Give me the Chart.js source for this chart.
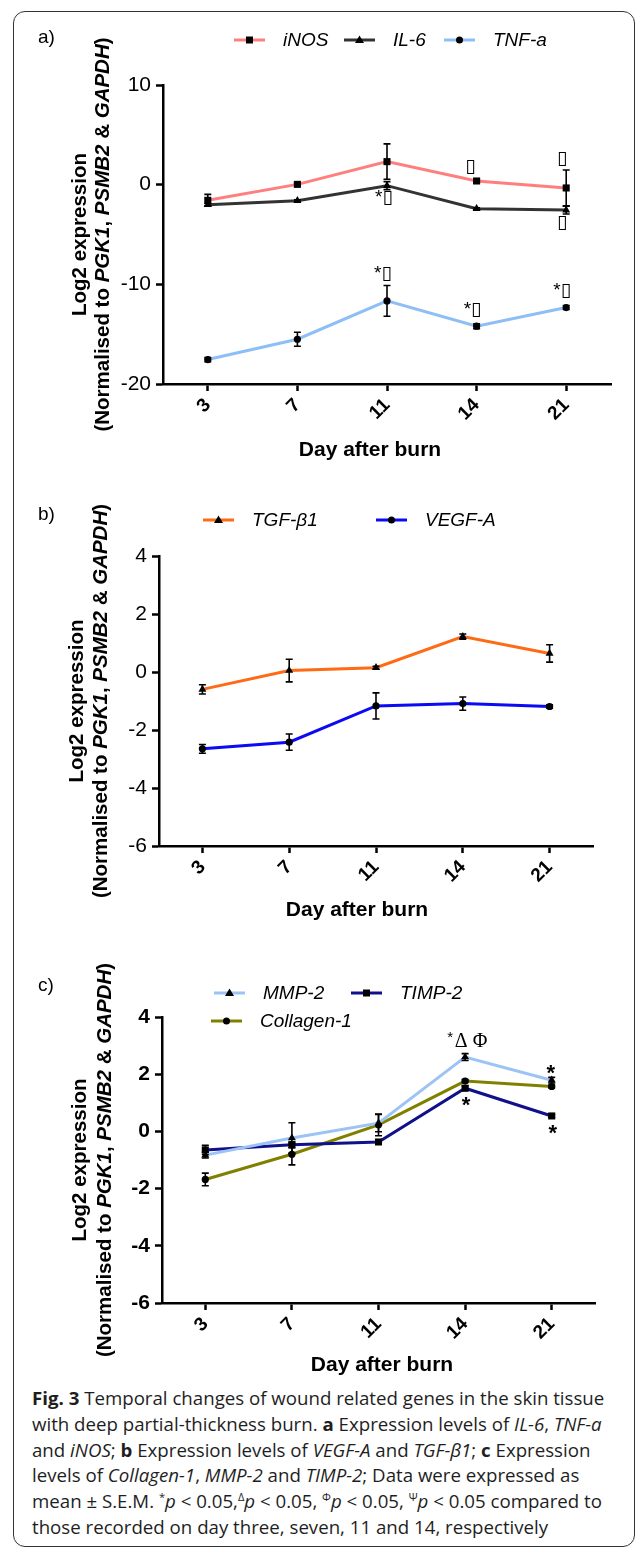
<!DOCTYPE html>
<html>
<head>
<meta charset="utf-8">
<script src="https://cdn.jsdelivr.net/npm/chart.js@4.4.0/dist/chart.umd.min.js"></script>
<style>
  body { margin: 0; background: #fff; }
  #fig { position: relative; width: 637px; height: 1550px; overflow: hidden; }
  #frame { position: absolute; left: 13px; top: 11px; width: 620px; height: 1534px;
           border: 1.5px solid #333; border-radius: 12px; }
  canvas { position: absolute; left: 0; }
  #cap { position: absolute; left: 32px; top: 1385px; font-family: 'Open Sans', sans-serif;
         font-size: 18.5px; line-height: 25.8px; color: #1e1e1e; white-space: nowrap; transform-origin: 0 0; }
  #cap div { width: max-content; }
  #cap sup { font-size: 11px; line-height: 0; }
</style>
</head>
<body>
<div id="fig">
  <div id="frame"></div>
  <canvas id="chartA" width="637" height="470" style="top:0px"></canvas>
  <canvas id="chartB" width="637" height="460" style="top:470px"></canvas>
  <canvas id="chartC" width="637" height="455" style="top:930px"></canvas>
  <div id="cap">
    <div id="capFirst"><b>Fig. 3</b> Temporal changes of wound related genes in the skin tissue</div>
    <div>with deep partial-thickness burn. <b>a</b> Expression levels of <i>IL-6</i>, <i>TNF-a</i></div>
    <div>and <i>iNOS</i>; <b>b</b> Expression levels of <i>VEGF-A</i> and <i>TGF-β1</i>; <b>c</b> Expression</div>
    <div>levels of <i>Collagen-1</i>, <i>MMP-2</i> and <i>TIMP-2</i>; Data were expressed as</div>
    <div>mean ± S.E.M. <sup>*</sup><i>p</i> &lt; 0.05,<sup>Δ</sup><i>p</i> &lt; 0.05, <sup>Φ</sup><i>p</i> &lt; 0.05, <sup>Ψ</sup><i>p</i> &lt; 0.05 compared to</div>
    <div>those recorded on day three, seven, 11 and 14, respectively</div>
  </div>
</div>
<script>
// x categories
const days = ['3', '7', '11', '14', '21'];

// panel a
const iNOS = [-1.57, 0.03, 2.31, 0.37, -0.33];
const iNOSErr = [0.6, 0.15, 1.78, 0.15, 1.8];
const IL6 = [-2.01, -1.61, -0.10, -2.41, -2.55];
const IL6Err = [0.12, 0.1, 0.4, 0.1, 0.4];
const TNFa = [-17.55, -15.51, -11.66, -14.20, -12.33];
const TNFaErr = [0.2, 0.7, 1.54, 0.25, 0.2];
const ticksA = [-20, -10, 0, 10];

// panel b
const TGFb1 = [-0.60, 0.05, 0.15, 1.22, 0.64];
const TGFb1Err = [0.16, 0.39, 0.05, 0.09, 0.30];
const VEGFA = [-2.65, -2.42, -1.17, -1.09, -1.19];
const VEGFAErr = [0.15, 0.28, 0.45, 0.23, 0.06];
const ticksB = [-6, -4, -2, 0, 2, 4];

// panel c
const MMP2 = [-0.83, -0.23, 0.29, 2.60, 1.79];
const MMP2Err = [0.1, 0.53, 0.3, 0.12, 0.1];
const TIMP2 = [-0.65, -0.47, -0.37, 1.51, 0.54];
const TIMP2Err = [0.16, 0.1, 0.08, 0.08, 0.05];
const Col1 = [-1.68, -0.80, 0.23, 1.76, 1.57];
const Col1Err = [0.22, 0.37, 0.38, 0.05, 0.05];
const ticksC = [-6, -4, -2, 0, 2, 4];

// significance marks: series index, day index, text
const notesA = [
  {s: 0, i: 3, t: '▯', dx: -6, dy: -14},
  {s: 0, i: 4, t: '▯', dx: -4, dy: -29},
  {s: 1, i: 2, t: '*▯', dx: -3, dy: 12},
  {s: 1, i: 4, t: '▯', dx: -4, dy: 13},
  {s: 2, i: 2, t: '*▯', dx: -4, dy: -27},
  {s: 2, i: 3, t: '*▯', dx: -4, dy: -16},
  {s: 2, i: 4, t: '*▯', dx: -4, dy: -17}
];
const notesC = [
  {s: 0, i: 3, t: '*', dx: -15, dy: -19, font: '15px "Liberation Sans"'},
  {s: 0, i: 3, t: 'Δ Φ', dx: 6, dy: -15, font: '20px "Liberation Serif"'},
  {s: 0, i: 4, t: '*', dx: -1, dy: -6, font: 'bold 22px "Liberation Sans"'},
  {s: 1, i: 3, t: '*', dx: 1, dy: 18, font: 'bold 22px "Liberation Sans"'},
  {s: 1, i: 4, t: '*', dx: 1, dy: 18, font: 'bold 22px "Liberation Sans"'}
];

const SANS = '"Liberation Sans", Arial, sans-serif';
const radius = {rect: 5, triangle: 4.6, circle: 3.6};

function marker(c, style, x, y) {
  c.fillStyle = '#000';
  c.beginPath();
  if (style === 'rect') c.rect(x - 3.5, y - 3.5, 7, 7);
  else if (style === 'triangle') { c.moveTo(x, y - 4.5); c.lineTo(x + 4.5, y + 3); c.lineTo(x - 4.5, y + 3); c.closePath(); }
  else c.arc(x, y, 3.5, 0, Math.PI * 2);
  c.fill();
}

const errorBars = {
  id: 'errorBars',
  afterDatasetsDraw(chart) {
    const c = chart.ctx, xs = chart.scales.x, ys = chart.scales.y;
    c.save();
    c.strokeStyle = '#000';
    c.lineWidth = 1.6;
    chart.data.datasets.forEach(ds => {
      ds.data.forEach((v, i) => {
        const e = ds.errors[i];
        if (!e) return;
        const x = xs.getPixelForValue(i);
        const y1 = ys.getPixelForValue(v + e), y2 = ys.getPixelForValue(v - e);
        c.beginPath();
        c.moveTo(x, y1); c.lineTo(x, y2);
        c.moveTo(x - 3.5, y1); c.lineTo(x + 3.5, y1);
        c.moveTo(x - 3.5, y2); c.lineTo(x + 3.5, y2);
        c.stroke();
      });
    });
    c.restore();
  }
};

function deco(cfg) {
  return {
    id: 'deco',
    afterDraw(chart) {
      const c = chart.ctx, xs = chart.scales.x, ys = chart.scales.y, area = chart.chartArea;
      c.save();
      c.textBaseline = 'middle';
      // panel tag
      c.fillStyle = '#000';
      c.font = '19px ' + SANS;
      c.textAlign = 'left';
      c.fillText(cfg.tag, 38, cfg.tagY);
      // legend
      cfg.legend.forEach(it => {
        const ds = chart.data.datasets[it.s];
        c.strokeStyle = ds.borderColor;
        c.lineWidth = 3;
        c.beginPath(); c.moveTo(it.x, it.y); c.lineTo(it.x + 31, it.y); c.stroke();
        marker(c, ds.pointStyle, it.x + 15.5, it.y);
        c.fillStyle = '#000';
        c.font = 'italic 19px ' + SANS;
        c.textAlign = 'left';
        c.fillText(ds.label, it.x + 49, it.y + 1);
      });
      // y title
      const cy = (area.top + area.bottom) / 2;
      c.save();
      c.translate(cfg.yTitleX[0], cy);
      c.rotate(-Math.PI / 2);
      c.textAlign = 'center';
      c.font = 'bold 20.5px ' + SANS;
      c.fillText('Log2 expression', 0, 0);
      c.restore();
      const segs = [['(Normalised to ', 0], ['PGK1', 1], [', ', 0], ['PSMB2', 1], [' & ', 0], ['GAPDH', 1], [')', 0]];
      const fnt = f => (f ? 'italic bold 20.5px ' : 'bold 20.5px ') + SANS;
      let total = 0;
      segs.forEach(s => { c.font = fnt(s[1]); total += c.measureText(s[0]).width; });
      c.save();
      c.translate(cfg.yTitleX[1], cy);
      c.rotate(-Math.PI / 2);
      c.textAlign = 'left';
      let px = -total / 2;
      segs.forEach(s => { c.font = fnt(s[1]); c.fillText(s[0], px, 0); px += c.measureText(s[0]).width; });
      c.restore();
      // x title
      c.textAlign = 'center';
      c.font = 'bold 21px ' + SANS;
      c.fillText('Day after burn', cfg.xTitle[0], cfg.xTitle[1]);
      // significance marks
      (cfg.notes || []).forEach(n => {
        const ds = chart.data.datasets[n.s];
        const x = xs.getPixelForValue(n.i) + n.dx;
        const y = ys.getPixelForValue(ds.data[n.i]) + n.dy;
        c.font = n.font || ('19px ' + SANS + ', "DejaVu Sans"');
        c.textAlign = 'center';
        c.fillText(n.t, x, y);
      });
      c.restore();
    }
  };
}

function makePanel(id, cfg) {
  const H = document.getElementById(id).height;
  return new Chart(document.getElementById(id), {
    type: 'line',
    data: {
      labels: days,
      datasets: cfg.series.map(s => ({
        label: s.name, data: s.values, errors: s.errors,
        borderColor: s.color, backgroundColor: s.color, borderWidth: 3,
        pointStyle: s.marker, pointRadius: radius[s.marker],
        pointBackgroundColor: '#000', pointBorderColor: '#000', pointBorderWidth: 0,
        tension: 0
      }))
    },
    options: {
      responsive: false,
      animation: false,
      devicePixelRatio: 1,
      layout: {padding: {top: cfg.area.top, right: 637 - cfg.area.right, left: 0, bottom: 0}},
      plugins: {legend: {display: false}, tooltip: {enabled: false}},
      scales: {
        x: {
          offset: true,
          grid: {drawOnChartArea: false, tickLength: 7, tickColor: '#000', tickWidth: 2.5},
          border: {color: '#000', width: 2.5},
          ticks: {color: '#000', autoSkip: false, minRotation: 45, maxRotation: 45, padding: 3,
                  font: {family: SANS, size: 19, weight: 'bold'}},
          afterFit(s) { s.height = H - cfg.area.bottom; }
        },
        y: {
          min: cfg.ticks[0], max: cfg.ticks[cfg.ticks.length - 1],
          afterBuildTicks(s) { s.ticks = cfg.ticks.map(v => ({value: v})); },
          grid: {drawOnChartArea: false, tickLength: 7, tickColor: '#000', tickWidth: 2.5},
          border: {color: '#000', width: 2.5},
          ticks: {color: '#000', padding: 5, font: {family: SANS, size: 21, weight: cfg.tickBold ? 'bold' : 'normal'}},
          afterFit(s) { s.width = cfg.area.left; }
        }
      }
    },
    plugins: [errorBars, deco(cfg)]
  });
}

makePanel('chartA', {
  area: {left: 163, right: 611, top: 85, bottom: 384},
  ticks: ticksA,
  series: [
    {name: 'iNOS', values: iNOS, errors: iNOSErr, color: '#FF7F7F', marker: 'rect'},
    {name: 'IL-6', values: IL6, errors: IL6Err, color: '#333333', marker: 'triangle'},
    {name: 'TNF-a', values: TNFa, errors: TNFaErr, color: '#8EBEF6', marker: 'circle'}
  ],
  tag: 'a)', tagY: 38,
  legend: [{s: 0, x: 234, y: 40}, {s: 1, x: 344, y: 40}, {s: 2, x: 444, y: 40}],
  yTitleX: [80, 103],
  xTitle: [370, 450],
  notes: notesA
});

makePanel('chartB', {
  area: {left: 159, right: 593, top: 86, bottom: 376},
  ticks: ticksB,
  series: [
    {name: 'TGF-β1', values: TGFb1, errors: TGFb1Err, color: '#FF6A14', marker: 'triangle'},
    {name: 'VEGF-A', values: VEGFA, errors: VEGFAErr, color: '#0A0AF5', marker: 'circle'}
  ],
  tag: 'b)', tagY: 45,
  legend: [{s: 0, x: 203, y: 50}, {s: 1, x: 376, y: 50}],
  yTitleX: [77, 101],
  xTitle: [357, 440]
});

makePanel('chartC', {
  area: {left: 162, right: 595, top: 87, bottom: 373},
  ticks: ticksC,
  tickBold: true,
  series: [
    {name: 'MMP-2', values: MMP2, errors: MMP2Err, color: '#9CC3F5', marker: 'triangle'},
    {name: 'TIMP-2', values: TIMP2, errors: TIMP2Err, color: '#10108A', marker: 'rect'},
    {name: 'Collagen-1', values: Col1, errors: Col1Err, color: '#808000', marker: 'circle'}
  ],
  tag: 'c)', tagY: 56,
  legend: [{s: 0, x: 214, y: 63}, {s: 1, x: 351, y: 63}, {s: 2, x: 211, y: 91}],
  yTitleX: [80, 105],
  xTitle: [382, 435],
  notes: notesC
});

// squeeze the caption so its first line spans the same width as in the figure
function fitCaption() {
  const cap = document.getElementById('cap');
  const w = document.getElementById('capFirst').offsetWidth;
  cap.style.transform = 'scaleX(' + (572 / w) + ')';
}
fitCaption();
if (document.fonts) document.fonts.ready.then(fitCaption);
</script>
</body>
</html>
